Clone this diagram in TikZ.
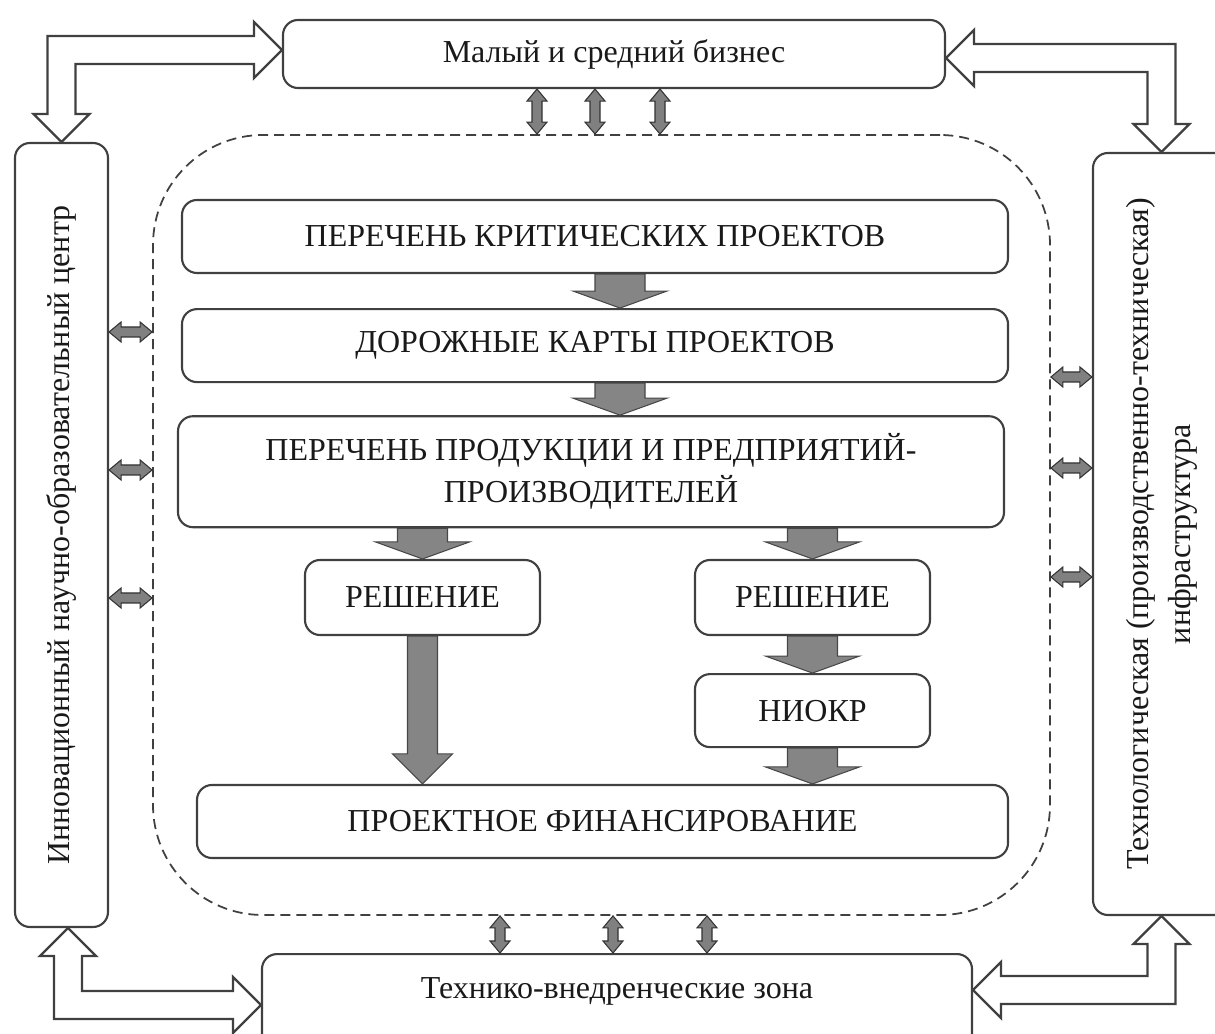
\documentclass[tikz,border=0pt]{standalone}
\usepackage{fontspec}
\setmainfont{Liberation Serif}
\usepackage{tikz}
\usetikzlibrary{positioning}
\usetikzlibrary{calc}
\tikzset{main box/.style={rectangle,rounded corners=0.3cm,draw=black!75,line width=1.2pt,fill=white,inner sep=0pt,align=center,text=black!90,font=\fontsize{18.2}{24}\selectfont},}
\tikzset{zone box/.style={rectangle,rounded corners=2.2cm,draw=black!75,line width=1pt,dash pattern=on 0.2cm off 0.12cm},}

% sizes of the arrows
\newcommand{\cornS}{0.28cm}
\newcommand{\cornH}{0.56cm}
\newcommand{\cornL}{0.56cm}
\newcommand{\smS}{0.1cm}
\newcommand{\smH}{0.2cm}
\newcommand{\smL}{0.24cm}

% gray arrow down: x of #1, tip at y of #2
\newcommand{\blockarrow}[5]{%
  \draw[gray arrow] let \p1=#1, \p2=#2 in
    ({\x1-#3},\y1) -- ({\x1-#3},{\y2+#5}) -- ({\x1-#4},{\y2+#5}) -- (\x1,\y2)
    -- ({\x1+#4},{\y2+#5}) -- ({\x1+#3},{\y2+#5}) -- ({\x1+#3},\y1) -- cycle;}
\newcommand{\shortarrow}[2]{\blockarrow{#1}{#2}{0.5cm}{0.94cm}{0.34cm}}

% small double arrows
\newcommand{\vdarrow}[2]{%
  \draw[small arrow] let \p1=#1, \p2=#2 in
    (\x1,\y1) -- ({\x1+\smH},{\y1-\smL}) -- ({\x1+\smS},{\y1-\smL}) -- ({\x1+\smS},{\y2+\smL})
    -- ({\x1+\smH},{\y2+\smL}) -- (\x1,\y2) -- ({\x1-\smH},{\y2+\smL}) -- ({\x1-\smS},{\y2+\smL})
    -- ({\x1-\smS},{\y1-\smL}) -- ({\x1-\smH},{\y1-\smL}) -- cycle;}
\newcommand{\hdarrow}[2]{%
  \draw[small arrow] let \p1=#1, \p2=#2 in
    (\x1,\y1) -- ({\x1+\smL},{\y1+\smH}) -- ({\x1+\smL},{\y1+\smS}) -- ({\x2-\smL},{\y1+\smS})
    -- ({\x2-\smL},{\y1+\smH}) -- (\x2,\y1) -- ({\x2-\smL},{\y1-\smH}) -- ({\x2-\smL},{\y1-\smS})
    -- ({\x1+\smL},{\y1-\smS}) -- ({\x1+\smL},{\y1-\smH}) -- cycle;}

% hollow corner arrow: #1 tip on a horizontal block, #2 tip on a vertical block, #3 #4 signs
\newcommand{\cornerarrow}[4]{%
  \draw[hollow arrow] let \p1=#1, \p2=#2 in
    ({\x2-(#3)*\cornS},{\y1-(#4)*\cornS}) -- ({\x1-(#3)*\cornL},{\y1-(#4)*\cornS})
    -- ({\x1-(#3)*\cornL},{\y1-(#4)*\cornH}) -- (\x1,\y1)
    -- ({\x1-(#3)*\cornL},{\y1+(#4)*\cornH}) -- ({\x1-(#3)*\cornL},{\y1+(#4)*\cornS})
    -- ({\x2+(#3)*\cornS},{\y1+(#4)*\cornS}) -- ({\x2+(#3)*\cornS},{\y2-(#4)*\cornL})
    -- ({\x2+(#3)*\cornH},{\y2-(#4)*\cornL}) -- (\x2,\y2)
    -- ({\x2-(#3)*\cornH},{\y2-(#4)*\cornL}) -- ({\x2-(#3)*\cornS},{\y2-(#4)*\cornL}) -- cycle;}

\begin{document}
\begin{tikzpicture}[gray arrow/.style={fill=black!48,draw=black!72,line width=0.6pt},
    small arrow/.style={fill=black!50,draw=black!80,line width=0.6pt},
    hollow arrow/.style={fill=white,draw=black!75,line width=1.3pt}]
    \useasboundingbox (0,0) rectangle (24.3,-20.68);

    % outer blocks
    \node[main box, minimum width=13.24cm, minimum height=1.36cm] (biz) at (12.28,-1.08) {Малый и средний бизнес};
    \node[main box, rotate=90, minimum width=15.68cm, minimum height=1.86cm] (nioc) at (1.23,-10.7) {Инновационный научно-образовательный центр};
    \node[main box, rotate=90, minimum width=15.24cm, minimum height=2.74cm] (tech) at (23.23,-10.68) {Технологическая (производственно-техническая)\\инфраструктура};
    \node[main box, anchor=north, minimum width=14.2cm, text height=0.58cm, text depth=1.6cm, inner ysep=0.3cm] (tvz) at (12.34,-19.06) {Технико-внедренческие зона};

    \node[zone box, minimum width=17.94cm, minimum height=15.6cm] (zone) at (12.03,-10.5) {};

    % inner blocks
    \node[main box, minimum width=16.52cm, minimum height=1.46cm] (kp) at (11.9,-4.73) {ПЕРЕЧЕНЬ КРИТИЧЕСКИХ ПРОЕКТОВ};
    \node[main box, minimum width=16.52cm, minimum height=1.46cm] (dk) [below=0.68cm of kp] {ДОРОЖНЫЕ КАРТЫ ПРОЕКТОВ};
    \node[main box, minimum width=16.52cm, minimum height=2.22cm] (pp) [below=0.64cm of dk, xshift=-0.08cm] {ПЕРЕЧЕНЬ ПРОДУКЦИИ И ПРЕДПРИЯТИЙ-\\ПРОИЗВОДИТЕЛЕЙ};
    \node[main box, minimum width=4.7cm, minimum height=1.5cm] (r1) at (8.45,-11.95) {РЕШЕНИЕ};
    \node[main box, minimum width=4.7cm, minimum height=1.5cm] (r2) at (16.25,-11.95) {РЕШЕНИЕ};
    \node[main box, minimum width=4.7cm, minimum height=1.46cm] (niokr) [below=0.74cm of r2] {НИОКР};
    \node[main box, minimum width=16.22cm, minimum height=1.46cm] (pf) at (12.05,-16.43) {ПРОЕКТНОЕ ФИНАНСИРОВАНИЕ};

    \shortarrow{($(kp.south)+(0.5,0)$)}{(dk.north)}
    \shortarrow{($(dk.south)+(0.5,0)$)}{(pp.north)}
    \shortarrow{(r1.north |- pp.south)}{(r1.north)}
    \shortarrow{(r2.north |- pp.south)}{(r2.north)}
    \shortarrow{(r2.south)}{(niokr.north)}
    \shortarrow{(niokr.south)}{(pf.north)}
    \blockarrow{(r1.south)}{(pf.north)}{0.3cm}{0.6cm}{0.6cm}

    % links with the dashed zone
    \foreach \dx in {-1.54,-0.38,0.92} {\vdarrow{($(biz.south)+(\dx,0)$)}{(zone.north)}}
    \foreach \dx in {-2.03,0.23,2.11} {\vdarrow{($(zone.south)+(\dx,0)$)}{(tvz.north)}}
    \foreach \dy in {4.06,1.3,-1.26} {\hdarrow{($(nioc.south)+(0,\dy)$)}{(zone.west)}}
    \foreach \dy in {2.96,1.14,-1.04} {\hdarrow{($(zone.east)+(0,\dy)$)}{(tech.north)}}

    % corner arrows
    \cornerarrow{($(biz.west)+(0,0.08)$)}{(nioc.east)}{1}{-1}
    \cornerarrow{($(biz.east)+(0,-0.08)$)}{(tech.east)}{-1}{-1}
    \cornerarrow{($(tvz.north west)+(0,-1.04)$)}{($(nioc.west)+(0.13,0)$)}{1}{1}
    \cornerarrow{($(tvz.north east)+(0,-0.74)$)}{(tech.west)}{-1}{1}
\end{tikzpicture}
\end{document}
